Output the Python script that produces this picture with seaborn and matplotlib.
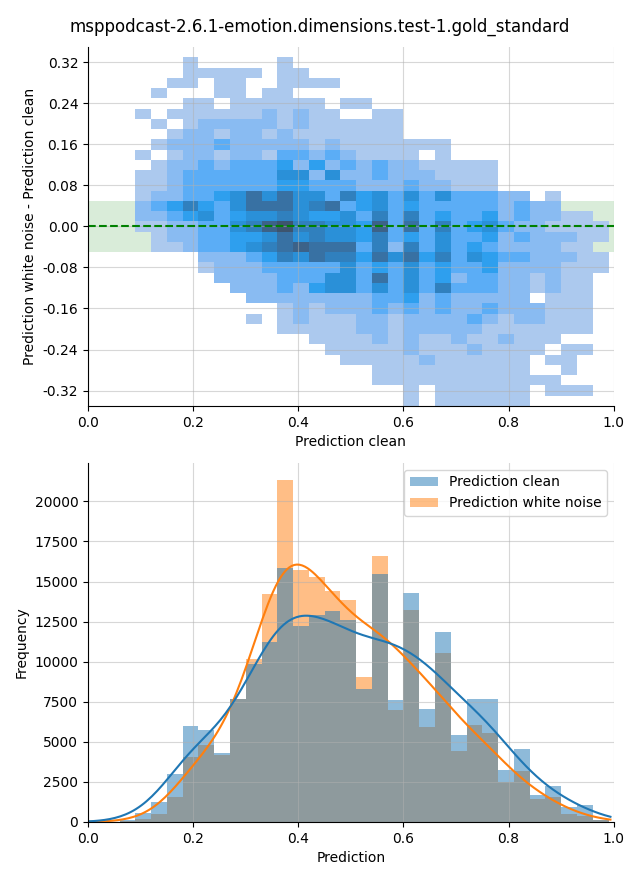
import numpy as np
import pandas as pd
import matplotlib
matplotlib.use("Agg")
import matplotlib.pyplot as plt
import seaborn as sns
from matplotlib.ticker import MultipleLocator

plt.rcParams["axes.unicode_minus"] = False

title = "msppodcast-2.6.1-emotion.dimensions.test-1.gold_standard"

# shared prediction bins, width 0.03 from 0 to 0.99
pred_centers = np.round(np.arange(33) * 0.03 + 0.015, 3)
# difference bins, width 0.02, listed top (0.34) to bottom (-0.34)
diff_centers = np.round(0.34 - 0.02 * np.arange(35), 2)

# 2d histogram: one string per row, one char per bin
# '.' = empty, 1..9 = relative count (1 lightest, 9 darkest)
diff_grid = [
    "..... ..... ..... ..... ..... ..... ...",
    "..... .1... ..1.. ..... ..... ..... ...",
    "..... .1111 1.11. ..... ..... ..... ...",
    "..... 11.11 ..111 1.... ..... ..... ...",
    "....1 ...11 .11.. ..... ..... ..... ...",
    "..... .11.1 11111 .11.. ..... ..... ...",
    "...1. 11111 12121 1..11 ..... ..... ...",
    "....1 .1222 22121 11111 ..... ..... ...",
    "..... 12212 21211 11111 ..... ..... ...",
    "....1 22232 22221 21111 111.. ..... ...",
    "...1. 12212 21332 32111 1.1.. ..... ...",
    "....1 22323 33424 23232 21111 1.... ...",
    "...11 23333 33552 52232 22111 1.... ...",
    "...11 23333 33443 33222 32211 1.... ...",
    "...12 23345 75755 36453 53533 322.1 ...",
    "...23 46435 77756 73453 43333 32322 ...",
    "...22 34534 55654 45363 63433 42322 11.",
    "...11 22335 68966 55483 73634 53221 111",
    "....1 22334 45756 55463 43533 42322 211",
    "....1 12334 56787 77362 63534 32222 11.",
    "..... ..222 34657 66475 74635 43322 211",
    "..... ..122 23333 35343 53433 42222 111",
    "..... ...22 22333 55373 53423 32212 11.",
    "..... ....2 22324 55353 53633 32212 11.",
    "..... ..... 22222 22233 42322 222.1 11.",
    "..... ..... ..121 22232 32322 32221 11.",
    "..... ..... 1.121 11221 22223 21221 11.",
    "..... ..... ..111 11221 22222 11111 11.",
    "..... ..... ....1 11121 21121 12111 ...",
    "..... ..... ..... 11111 21112 1111. 11.",
    "..... ..... ..... .1111 12111 111.1 1..",
    "..... ..... ..... ...11 11111 111.. 1..",
    "..... ..... ..... ...11 11111 11111 ...",
    "..... ..... ..... ..... 1.111 111.1 11.",
    "..... ..... ..... ..... 1.111 111.. ...",
]

# frequency per prediction bin
clean_counts = [0, 0, 100, 560, 1230, 2960, 5960, 5710, 4330, 7670, 9830,
                11210, 15850, 12230, 12890, 13140, 12620, 8270, 15460, 7580,
                14270, 7020, 11830, 5400, 7640, 7640, 3270, 4520, 1710, 2270,
                900, 1080, 150]
noise_counts = [0, 0, 30, 210, 520, 1540, 4040, 4830, 4170, 7640, 10150,
                14200, 21330, 15710, 15290, 14390, 13830, 9020, 16580, 6960,
                13210, 5920, 10520, 4400, 6020, 5520, 2480, 3150, 1400, 1540,
                480, 400, 100]
series_names = ["Prediction clean", "Prediction white noise"]

rows = []
for yc, line in zip(diff_centers, diff_grid):
    for xc, ch in zip(pred_centers, line.replace(" ", "")):
        if ch != ".":
            rows.append((xc, yc, int(ch)))
cells = pd.DataFrame(rows, columns=["clean", "diff", "n"])

hist = pd.DataFrame({
    "Prediction": np.concatenate([pred_centers, pred_centers]),
    "count": clean_counts + noise_counts,
    "series": [series_names[0]] * len(clean_counts) + [series_names[1]] * len(noise_counts),
})

fig, (ax1, ax2) = plt.subplots(2, 1, figsize=(6.4, 8.8))
fig.subplots_adjust(left=0.1375, right=0.959, top=0.9466, bottom=0.066, hspace=0.159)

# top: difference vs clean prediction
ax1.axhspan(-0.05, 0.05, color="green", alpha=0.15, lw=0, zorder=0.5)
sns.histplot(data=cells, x="clean", y="diff", weights="n",
             binwidth=(0.03, 0.02), binrange=((0, 0.99), (-0.35, 0.35)),
             vmin=1, ax=ax1)
ax1.axhline(0, color="green", linestyle="--", lw=1.5)
ax1.set_xlim(0, 1)
ax1.set_ylim(-0.35, 0.35)
ax1.yaxis.set_major_locator(MultipleLocator(0.08))
ax1.grid(True, alpha=0.5)
ax1.set_xlabel("Prediction clean")
ax1.set_ylabel("Prediction white noise - Prediction clean")

# bottom: both prediction distributions
sns.histplot(data=hist, x="Prediction", weights="count", hue="series",
             binwidth=0.03, binrange=(0, 0.99), kde=True, linewidth=0,
             kde_kws={"bw_adjust": 0.5, "cut": 0.3}, ax=ax2)
sns.move_legend(ax2, "upper right", title=None)
ax2.set_xlim(0, 1)
ax2.yaxis.set_major_locator(MultipleLocator(2500))
ax2.grid(True, alpha=0.5)
ax2.set_xlabel("Prediction")
ax2.set_ylabel("Frequency")

sns.despine(fig)
fig.suptitle(title, fontsize=12, y=0.98)
fig.savefig("out.png", dpi=100)
